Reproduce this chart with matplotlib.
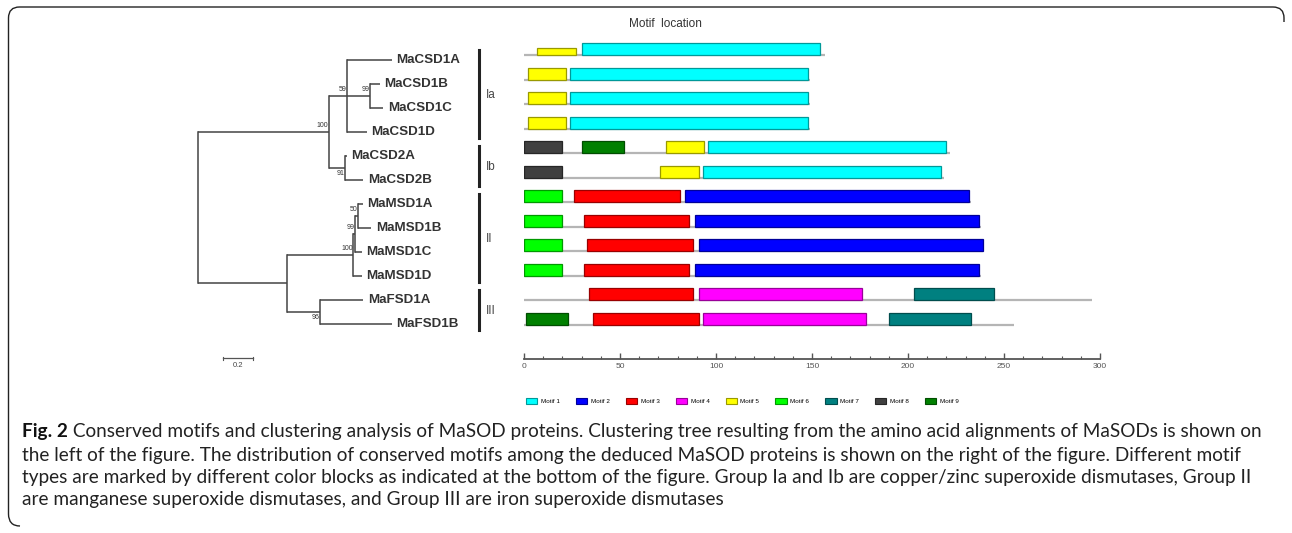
import matplotlib
matplotlib.use('Agg')
import matplotlib.pyplot as plt
import matplotlib.colors as mcolors
from matplotlib.patches import Patch, Rectangle, PathPatch
from matplotlib.path import Path

W, H, DPI = 1292, 533, 100

# ---- data ----
proteins = ['MaCSD1A', 'MaCSD1B', 'MaCSD1C', 'MaCSD1D', 'MaCSD2A', 'MaCSD2B',
            'MaMSD1A', 'MaMSD1B', 'MaMSD1C', 'MaMSD1D', 'MaFSD1A', 'MaFSD1B']
protein_lengths = [157, 149, 149, 149, 222, 219, 233, 238, 239, 238, 296, 255]

motif_names = ['Motif 1', 'Motif 2', 'Motif 3', 'Motif 4', 'Motif 5',
               'Motif 6', 'Motif 7', 'Motif 8', 'Motif 9']
motif_colors = ['#00ffff', '#0000ff', '#ff0000', '#ff00ff', '#ffff00',
                '#00ff00', '#008080', '#404040', '#008000']

# (motif number, start, end) for each protein, in the order above
motif_sites = [
    [(5, 7, 27), (1, 30, 154)],
    [(5, 2, 22), (1, 24, 148)],
    [(5, 2, 22), (1, 24, 148)],
    [(5, 2, 22), (1, 24, 148)],
    [(8, 0, 20), (9, 30, 52), (5, 74, 94), (1, 96, 220)],
    [(8, 0, 20), (5, 71, 91), (1, 93, 217)],
    [(6, 0, 20), (3, 26, 81), (2, 84, 232)],
    [(6, 0, 20), (3, 31, 86), (2, 89, 237)],
    [(6, 0, 20), (3, 33, 88), (2, 91, 239)],
    [(6, 0, 20), (3, 31, 86), (2, 89, 237)],
    [(3, 34, 88), (4, 91, 176), (7, 203, 245)],
    [(9, 1, 23), (3, 36, 91), (4, 93, 178), (7, 190, 233)],
]
# sites drawn lower (weaker match): (protein index, motif number)
weak_sites = [(0, 5)]

# clustering tree: leaf = (name, branch length); node = ([children], branch length, support)
tree = ([
    ([
        ([('MaCSD1A', 0.294),
          ([('MaCSD1B', 0.065), ('MaCSD1C', 0.087)], 0.152, 99),
          ('MaCSD1D', 0.131)], 0.116, 59),
        ([('MaCSD2A', 0.011), ('MaCSD2B', 0.12)], 0.105, 91),
    ], 0.854, 100),
    ([
        ([
            ([
                ([('MaMSD1A', 0.031), ('MaMSD1B', 0.087)], 0.02, 50),
                ('MaMSD1C', 0.044),
            ], 0.01, 99),
            ('MaMSD1D', 0.055),
        ], 0.435, 100),
        ([('MaFSD1A', 0.283), ('MaFSD1B', 0.469)], 0.218, 96),
    ], 0.578, None),
], 0.0, None)

groups = ['Ia', 'Ib', 'II', 'III']
group_members = [(0, 3), (4, 5), (6, 9), (10, 11)]
scale_bar = 0.2

# ---- figure ----
fig = plt.figure(figsize=(W / DPI, H / DPI), dpi=DPI)
plt.rcParams['font.family'] = ['Liberation Sans', 'DejaVu Sans']


def px_axes(left, top, right, bottom):
    return fig.add_axes([left / W, 1 - bottom / H, (right - left) / W, (bottom - top) / H])


# frame around the figure
frame = px_axes(0, 0, W, H)
frame.set_xlim(0, W)
frame.set_ylim(H, 0)
frame.axis('off')
r = 11
verts = [(20, 526), (8.5, 526), (8.5, 514), (8.5, 7 + r), (8.5, 7), (8.5 + r, 7),
         (1284 - r, 7), (1284, 7), (1284, 7 + r), (1284, 22)]
codes = [Path.MOVETO, Path.CURVE3, Path.CURVE3, Path.LINETO, Path.CURVE3, Path.CURVE3,
         Path.LINETO, Path.CURVE3, Path.CURVE3, Path.LINETO]
frame.add_patch(PathPatch(Path(verts, codes), fill=False, lw=1.0, ec='#222222'))

# ---- tree ----
tax = px_axes(150, 30, 520, 380)
tax.set_xlim((150 - 198.3) / 153, (520 - 198.3) / 153)
tax.set_ylim((380 - 60) / 24, (30 - 60) / 24)
tax.axis('off')
tree_color = '#444444'
leaf_y = {name: i for i, name in enumerate(proteins)}


def draw(node, x0, is_last):
    if isinstance(node[0], str):
        name, bl = node
        y = leaf_y[name]
        tax.plot([x0, x0 + bl], [y, y], color=tree_color, lw=1.1, solid_capstyle='butt')
        tax.text(x0 + bl + 0.03, y, name, fontsize=9.6, fontweight='bold',
                 color='#333333', va='center', ha='left')
        return y
    children, bl, support = node
    x = x0 + bl
    ys = [draw(c, x, i == len(children) - 1) for i, c in enumerate(children)]
    y = (ys[0] + ys[-1]) / 2
    tax.plot([x, x], [ys[0], ys[-1]], color=tree_color, lw=1.1)
    if bl > 0:
        tax.plot([x0, x], [y, y], color=tree_color, lw=1.1, solid_capstyle='butt')
    if support is not None:
        dy = 0.22 if is_last else -0.25
        tax.text(x - 0.004, y + dy, str(support), fontsize=5, color='#333333',
                 ha='right', va='center')
    return y


draw(tree, 0.0, False)

bar_x = (479.3 - 198.3) / 153
for g, (a, b) in zip(groups, group_members):
    tax.plot([bar_x, bar_x], [a - 0.4, b + 0.25], color='#222222', lw=2.2)
    tax.text(bar_x + 0.045, (a + b) / 2 - 0.05, g, fontsize=8.5, color='#444444',
             ha='left', va='center')

sb_x = (222.7 - 198.3) / 153
tax.plot([sb_x, sb_x + scale_bar], [12.43, 12.43], color='#555555', lw=0.9)
tax.plot([sb_x, sb_x], [12.36, 12.5], color='#555555', lw=0.8)
tax.plot([sb_x + scale_bar, sb_x + scale_bar], [12.36, 12.5], color='#555555', lw=0.8)
tax.text(sb_x + scale_bar / 2, 12.75, str(scale_bar), fontsize=5.5, color='#444444',
         ha='center', va='center')

# ---- motif map ----
max_len = 300
max_ax = px_axes(524, 30, 1100, 359.3)
max_ax.set_xlim(0, max_len)
row_px = 24.5
max_ax.set_ylim((359.3 - 55) / row_px, (30 - 55) / row_px)
box_h = 11.7 / row_px


def darker(c, f=0.6):
    rgb = mcolors.to_rgb(c)
    return tuple(v * f for v in rgb)


for i, (length, sites) in enumerate(zip(protein_lengths, motif_sites)):
    max_ax.plot([0, length], [i, i], color='#b5b5b5', lw=1.6, solid_capstyle='butt', zorder=1)
    for m, s, e in sites:
        h = box_h * (0.6 if (i, m) in weak_sites else 1.0)
        col = motif_colors[m - 1]
        max_ax.add_patch(Rectangle((s, i - h), e - s, h, facecolor=col,
                                   edgecolor=darker(col), lw=0.9, zorder=2))

for side in ['top', 'left', 'right']:
    max_ax.spines[side].set_visible(False)
max_ax.spines['bottom'].set_color('#555555')
max_ax.spines['bottom'].set_linewidth(1.3)
max_ax.set_yticks([])
max_ax.set_xticks(range(0, max_len + 1, 50))
max_ax.set_xticks(range(0, max_len + 1, 10), minor=True)
max_ax.tick_params(axis='x', which='major', direction='in', length=4, width=1,
                   color='#555555', labelsize=6, labelcolor='#555555', pad=3)
max_ax.tick_params(axis='x', which='minor', direction='in', length=2.5, width=0.8,
                   color='#555555')
max_ax.set_title('Motif  location', fontsize=8.5, color='#333333', pad=2,
                 x=(665 - 524) / (1100 - 524))

handles = [Patch(facecolor=c, edgecolor=darker(c), lw=0.8, label=n)
           for c, n in zip(motif_colors, motif_names)]
fig.legend(handles=handles, ncol=9, loc='center left',
           bbox_to_anchor=(526 / W, 1 - 401 / H), frameon=False, fontsize=4.5,
           handlelength=1.8, handleheight=1.1, handletextpad=0.6,
           columnspacing=2.56, borderpad=0, borderaxespad=0)

# ---- caption ----
cap_font = 'Lato'
cap_lines = [
    'Conserved motifs and clustering analysis of MaSOD proteins. Clustering tree resulting from the amino acid alignments of MaSODs is shown on',
    'the left of the figure. The distribution of conserved motifs among the deduced MaSOD proteins is shown on the right of the figure. Different motif',
    'types are marked by different color blocks as indicated at the bottom of the figure. Group Ia and Ib are copper/zinc superoxide dismutases, Group II',
    'are manganese superoxide dismutases, and Group III are iron superoxide dismutases',
]
cap_y = [432, 455, 478, 500]
cap_left, cap_right = 22, 1262

# size the caption so that its first line spans the same width as in the figure
renderer = fig.canvas.get_renderer()
probe_size = 10
h1 = fig.text(0, 0, 'Fig. 2', fontsize=probe_size, fontweight='bold', family=cap_font)
h2 = fig.text(0, 0, ' ' + cap_lines[0], fontsize=probe_size, family=cap_font)
width = (h1.get_window_extent(renderer).width + h2.get_window_extent(renderer).width)
h1.remove()
h2.remove()
cap_size = probe_size * (cap_right - cap_left) / width

head = fig.text(cap_left / W, 1 - cap_y[0] / H, 'Fig. 2', fontsize=cap_size, fontweight='bold',
                family=cap_font, color='#111111', va='center', ha='left')
bb = head.get_window_extent(renderer)
fig.text(bb.x1 / W, 1 - cap_y[0] / H, ' ' + cap_lines[0], fontsize=cap_size,
         family=cap_font, color='#222222', va='center', ha='left')
for line, y in zip(cap_lines[1:], cap_y[1:]):
    fig.text(cap_left / W, 1 - y / H, line, fontsize=cap_size, family=cap_font,
             color='#222222', va='center', ha='left')

fig.savefig('out.png', dpi=DPI)
